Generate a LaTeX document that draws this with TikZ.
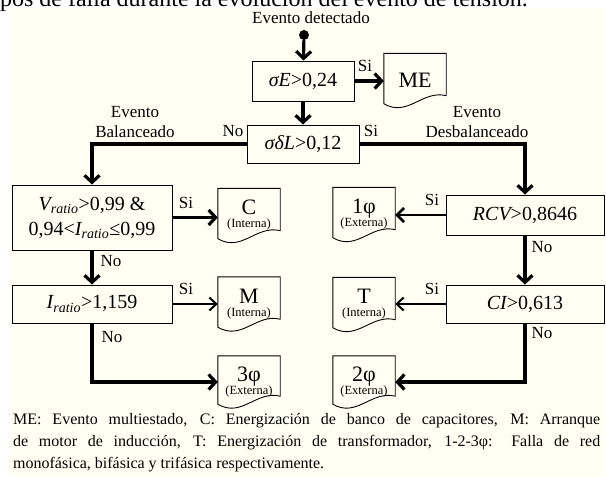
\documentclass[tikz,border=0pt]{standalone}
\usepackage{fontspec}
\setmainfont{Liberation Serif}
\usetikzlibrary{arrows.meta,calc}
\definecolor{bgc}{RGB}{255,255,244}
\newcommand\docpath[1]{%
  \draw[docline] (#1.north west) -- (#1.north east) -- ([yshift=12pt]#1.south east)
    .. controls ([xshift=-24pt,yshift=18pt]#1.south east) and ([xshift=24pt,yshift=-10pt]#1.south west)
    .. ([yshift=4pt]#1.south west) -- cycle;}
\tikzset{
  cond/.style={draw, line width=1pt, inner sep=0pt, align=center, font=\fontsize{20}{25}\selectfont},
  docn/.style={inner sep=0pt, minimum width=62pt, minimum height=54pt, align=center, font=\fontsize{22}{16}\selectfont},
  docline/.style={line width=0.9pt},
  lbl/.style={inner sep=0pt, align=center, font=\fontsize{17}{20}\selectfont},
  flow/.style={line width=3.2pt, -{Straight Barb[length=7pt,width=15pt]}},
  midflow/.style={line width=2.6pt, -{Straight Barb[length=7pt,width=14pt]}},
  thinflow/.style={line width=2pt, -{Straight Barb[length=7pt,width=13pt]}},
}
\newcommand\subl[1]{\\[-3pt]{\fontsize{12.5}{13}\selectfont #1}}
\begin{document}
\begin{tikzpicture}[x=1pt,y=-1pt]
\useasboundingbox (0,0) rectangle (606,477);
\fill[white] (0,0) rectangle (606,477);
\fill[bgc] (7,8) rectangle (606,477);
\node[anchor=base west, inner sep=0pt, font=\fontsize{24}{26}\selectfont] (hdr) at (-13.5,6)
  {tipos de falla durante la evolución del evento de tensión.};

\node[lbl] (start) at (311,18) {Evento detectado};
\node[circle, fill=black, inner sep=0pt, minimum size=10pt] (dot) at (304,35) {};
\node[cond, minimum width=102pt, minimum height=40pt] (sE) at (303,81) {{\itshape σE}>0,24};
\node[docn, font=\fontsize{22}{24}\selectfont] (ME) at (415,80.5) {ME};
\node[cond, minimum width=112pt, minimum height=38pt] (sdL) at (303,144) {{\itshape σδL}>0,12};

\node[cond, minimum width=160pt, minimum height=65pt] (Vr) at (92,217.5)
  {{\itshape V}\textsubscript{\itshape ratio}>0,99 \&\\0,94<{\itshape I}\textsubscript{\itshape ratio}≤0,99};
\node[docn] (C) at (249,215.5) {C\subl{(Interna)}};
\node[cond, minimum width=160pt, minimum height=38pt] (Ir) at (92,304)
  {{\itshape I}\textsubscript{\itshape ratio}>1,159};
\node[docn] (M) at (249,304) {M\subl{(Interna)}};
\node[docn, minimum height=52pt] (F3) at (249,382) {3φ\subl{(Externa)}};

\node[cond, minimum width=158pt, minimum height=40pt] (RCV) at (525,215) {{\itshape RCV}>0,8646};
\node[docn] (F1) at (364,214.5) {1φ\subl{(Externa)}};
\node[cond, minimum width=158pt, minimum height=38pt] (CI) at (525,304) {{\itshape CI}>0,613};
\node[docn] (T) at (364,304.5) {T\subl{(Interna)}};
\node[docn, minimum height=52pt] (F2) at (364,382) {2φ\subl{(Externa)}};

\foreach \d in {ME,C,M,F3,F1,T,F2} {\docpath{\d}}

\draw[flow] (dot) -- (sE);
\draw[flow] (sE.east) -- (sE.east -| ME.west);
\draw[flow] (sE) -- (sdL);
\draw[flow] (sdL.west) -| (Vr.north);
\draw[flow] (sdL.east) -| (RCV.north);
\draw[flow] (Vr.east) -- (Vr.east -| C.west);
\draw[flow] (Vr) -- (Ir);
\draw[thinflow] (Ir.east) -- (Ir.east -| M.west);
\draw[flow] (Ir.south) |- (F3.west);
\draw[midflow] (RCV.west) -- (RCV.west -| F1.east);
\draw[flow] (RCV) -- (CI);
\draw[thinflow] (CI.west) -- (CI.west -| T.east);
\draw[flow] (CI.south) |- (F2.east);

\node[lbl] (l1) at (365,66) {Si};
\node[lbl] (l2) at (233,131) {No};
\node[lbl] (l3) at (371,131) {Si};
\node[lbl] (bal) at (135,122) {Evento\\Balanceado};
\node[lbl] (desb) at (477,122) {Evento\\Desbalanceado};
\node[lbl] (l4) at (186,203) {Si};
\node[lbl] (l5) at (111,261) {No};
\node[lbl] (l6) at (186,289) {Si};
\node[lbl] (l7) at (112,337) {No};
\node[lbl] (l8) at (432,200) {Si};
\node[lbl] (l9) at (542,247) {No};
\node[lbl] (l10) at (432,289) {Si};
\node[lbl] (l11) at (542,333) {No};

\node[anchor=north west, inner sep=0pt, text width=587pt, align=justify,
      font=\fontsize{16}{22}\selectfont] (cap) at (13,413)
  {ME: Evento multiestado, C: Energización de banco de capacitores, M: Arranque\linebreak
   de motor de inducción, T: Energización de transformador, 1-2-3φ: Falla de red\linebreak
   monofásica, bifásica y trifásica respectivamente.};
\end{tikzpicture}
\end{document}
